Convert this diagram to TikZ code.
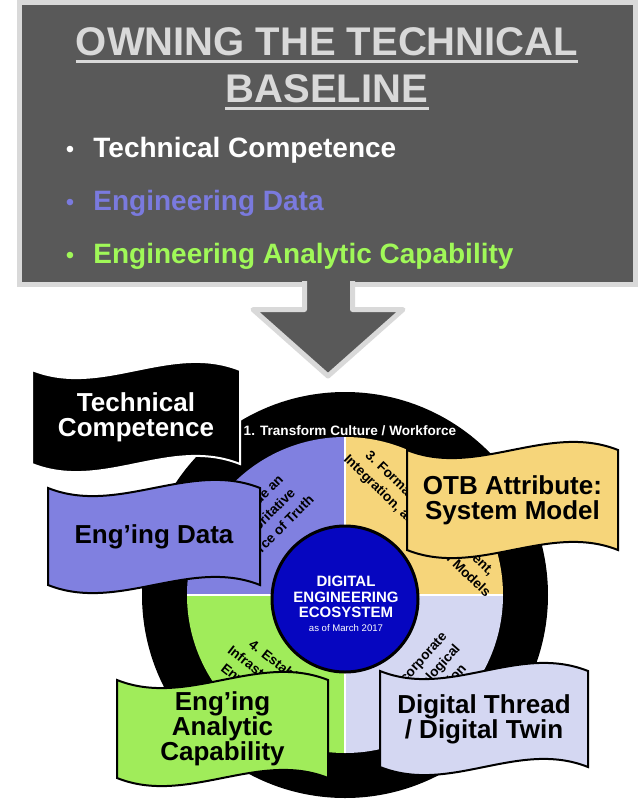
\documentclass[tikz,border=0pt]{standalone}
\usepackage{fontspec}
\setmainfont{Liberation Sans}
\usepackage{tikz}
\usepackage{xcolor}
\usetikzlibrary{calc}

\definecolor{boxgray}{RGB}{89,89,89}
\definecolor{rimgray}{RGB}{217,217,217}
\definecolor{listblue}{RGB}{122,122,222}
\definecolor{listgreen}{RGB}{160,248,88}
\definecolor{datablue}{RGB}{128,128,224}
\definecolor{modelyellow}{RGB}{246,213,122}
\definecolor{analyticgreen}{RGB}{160,236,90}
\definecolor{threadlilac}{RGB}{212,215,242}
\definecolor{ecoblue}{RGB}{6,6,192}

\begin{document}
\begin{tikzpicture}[x=0.5pt,y=-0.5pt,
  headline/.style={rimgray, anchor=base, inner sep=0, font=\bfseries\fontsize{20}{24}\selectfont},
  goal/.style={font=\bfseries\fontsize{6.8}{9}\selectfont, align=center, inner sep=0},
  flagtext/.style={font=\bfseries\fontsize{13}{12.5}\selectfont, align=center}]

\useasboundingbox (0,0) rectangle (638,800);

% grey box
\draw [rimgray, fill=boxgray, line width=2.5pt] (19,2.5) rectangle (635,284.5);
\node (head1) at (327,55) [headline] {OWNING THE TECHNICAL};
\node (head2) at (327,102) [headline] {BASELINE};
\foreach \h in {head1,head2}
{ \draw [rimgray, line width=1.5pt] ([yshift=-3pt]\h.base west) -- ([yshift=-3pt]\h.base east);
}
\foreach \txt/\col/\y in {Technical Competence/white/157,Engineering Data/listblue/210,Engineering Analytic Capability/listgreen/263}
{ \node (dot\y) at (70,\y) [anchor=base, text=\col, font=\fontsize{12}{14}\selectfont] {\textbullet};
  \node (item\y) at (93,\y) [anchor=base west, inner sep=0, text=\col, font=\bfseries\fontsize{14}{16}\selectfont] {\txt};
}

% arrow
\draw [rimgray, fill=boxgray, line width=2.5pt, line join=round] (304.5,281) -- (304.5,309.5) -- (253,309.5) -- (328,376) -- (403,309.5) -- (352.5,309.5) -- (352.5,281);

% ring
\fill (345,595) circle [radius=203];
\foreach \a/\col in {180/datablue,270/modelyellow,0/threadlilac,90/analyticgreen}
{ \fill [\col] (345,595) -- ++(\a:158) arc [start angle=\a, delta angle=90, radius=158] -- cycle;
}
\draw [white, line width=1pt] (345,437) -- (345,753) (187,595) -- (503,595);

\node (goal1) at (350,431) [goal, text=white] {1. Transform Culture / Workforce};
\node (goal2) at (263,520) [goal, rotate=45] {2. Provide an\\Authoritative\\Source of Truth};
\node (goal3) at (423,520) [goal, rotate=-44] {3. Formalize Development,\\Integration, and Use of Models};
\node (goal4) at (270,680) [goal, rotate=-38] {4. Establish\\Infrastructure \&\\Environments};
\node (goal5) at (427,680) [goal, rotate=48] {5. Incorporate\\Technological\\Innovation};

% hub
\draw [fill=ecoblue, line width=1.5pt] (345,599) circle [radius=73];
\node (hub) at (346,597) [align=center, white, font=\bfseries\fontsize{7.5}{7.8}\selectfont] {DIGITAL\\ENGINEERING\\ECOSYSTEM};
\node (hubdate) at (346,628) [white, font=\fontsize{4.8}{6}\selectfont] {as of March 2017};

% flags
\foreach \n/\xa/\xb/\ya/\yb/\col/\ink/\txt in {tech/32/240/370/464/black/white/{Technical\\Competence},
  data/48/260/488/585/datablue/black/{Eng’ing Data},
  model/407/618/450/550/modelyellow/black/{OTB Attribute:\\System Model},
  analytic/117/328/680/778/analyticgreen/black/{Eng’ing\\Analytic\\Capability},
  thread/380/588/671/767/threadlilac/black/{Digital Thread\\/ Digital Twin}}
{ \draw [fill=\col, draw=\ink, line width=1pt] (\xa,\ya) .. controls +(70,28) and +(-70,-28) .. (\xb,\ya) -- (\xb,\yb) .. controls +(-70,-28) and +(70,28) .. (\xa,\yb) -- cycle;
  \node (\n) at ($(\xa,\ya)!0.5!(\xb,\yb)$) [flagtext, text=\ink] {\txt};
}
\end{tikzpicture}
\end{document}
